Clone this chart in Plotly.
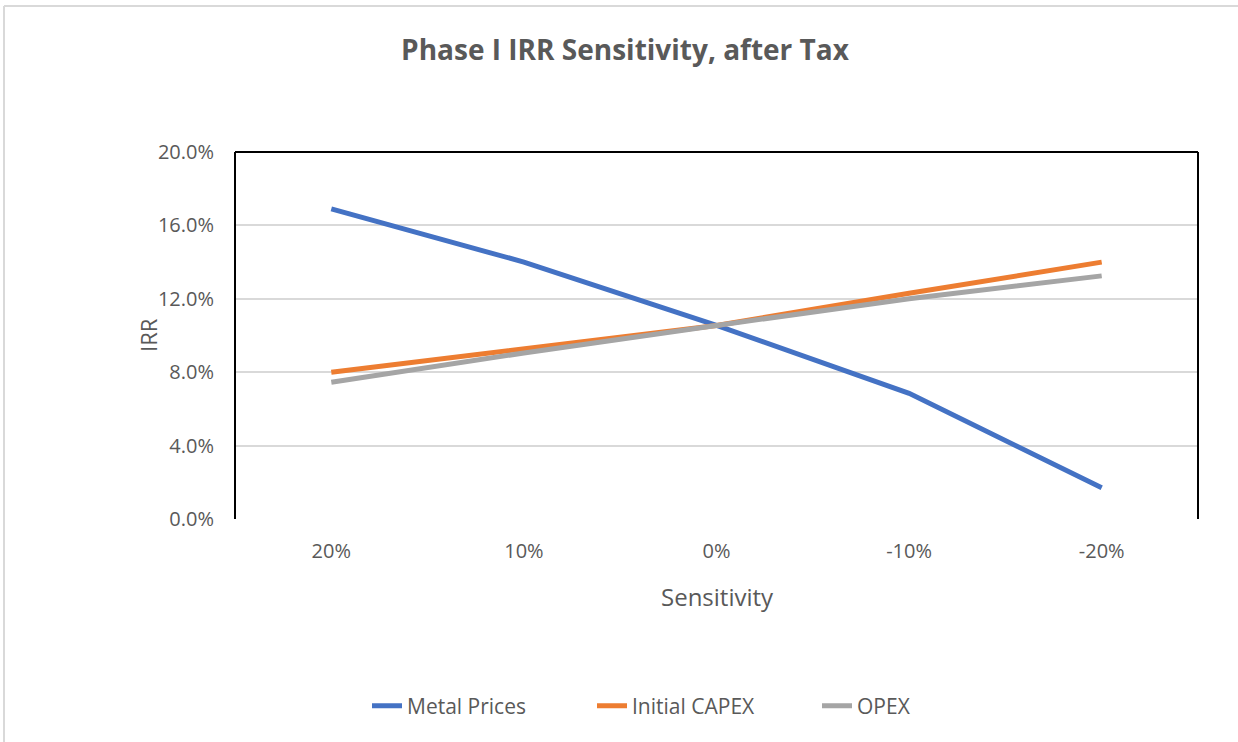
import plotly.graph_objects as go

# Sensitivity cases (change applied to each driver)
sensitivity = ["20%", "10%", "0%", "-10%", "-20%"]

# After-tax IRR for each driver
metal_prices = [0.169, 0.140, 0.1055, 0.0685, 0.017]
initial_capex = [0.080, 0.093, 0.1055, 0.123, 0.140]
opex = [0.0745, 0.0905, 0.1055, 0.120, 0.1325]

series_names = ["Metal Prices", "Initial CAPEX", "OPEX"]
series_values = [metal_prices, initial_capex, opex]
series_colors = ["#4472C4", "#ED7D31", "#A5A5A5"]

y_ticks = [0.0, 0.04, 0.08, 0.12, 0.16, 0.20]

FONT = "'Open Sans', sans-serif"
TEXT = "#595959"

fig = go.Figure()
for name, vals, col in zip(series_names, series_values, series_colors):
    fig.add_trace(go.Scatter(
        x=sensitivity, y=vals, name=name, mode="lines",
        line=dict(color=col, width=5),
    ))

W, H = 1238, 742
L, R, T, B = 235, 40, 152, 223
plot_w = W - L - R
plot_h = H - T - B

fig.update_layout(
    width=W, height=H,
    margin=dict(l=L, r=R, t=T, b=B),
    paper_bgcolor="white", plot_bgcolor="white",
    font=dict(family=FONT, color=TEXT, size=20),
    title=dict(
        text="<b>Phase I IRR Sensitivity, after Tax</b>",
        x=625 / W, xref="container", xanchor="center",
        y=1 - 50 / H, yref="container", yanchor="middle",
        font=dict(size=28, color=TEXT, family=FONT),
    ),
    xaxis=dict(
        type="category", range=[-0.5, 4.5],
        showgrid=False, showline=False, zeroline=False,
        ticks="", tickfont=dict(size=20, color=TEXT),
        ticklabelstandoff=18,
    ),
    yaxis=dict(
        range=[0, 0.20], tickvals=y_ticks, tickformat=".1%",
        showgrid=True, gridcolor="#D9D9D9", gridwidth=2,
        zeroline=False, showline=False, ticks="",
        tickfont=dict(size=20, color=TEXT),
        ticklabelstandoff=20,
    ),
    legend=dict(
        orientation="h", xref="container", x=367 / W, xanchor="left",
        yref="container", y=1 - 706 / H, yanchor="middle",
        font=dict(size=21, color=TEXT),
        entrywidth=180, entrywidthmode="pixels",
        bgcolor="rgba(0,0,0,0)",
    ),
    showlegend=True,
    annotations=[
        dict(text="IRR", textangle=-90, xref="paper", yref="paper",
             x=(148 - L) / plot_w, y=(519 - 335) / plot_h,
             showarrow=False, font=dict(size=22, color=TEXT),
             xanchor="center", yanchor="middle"),
        dict(text="Sensitivity", xref="paper", yref="paper",
             x=(717 - L) / plot_w, y=(519 - 596) / plot_h,
             showarrow=False, font=dict(size=24, color=TEXT),
             xanchor="center", yanchor="middle"),
    ],
)

# Black frame on left, top and right of the plot area
frame = dict(type="line", xref="paper", yref="paper", line=dict(color="black", width=2))
fig.add_shape(x0=0, x1=0, y0=0, y1=1, **frame)
fig.add_shape(x0=0, x1=1, y0=1, y1=1, **frame)
fig.add_shape(x0=1, x1=1, y0=0, y1=1, **frame)

# Light outer chart border (left and top edges)
bx = (4 - L) / plot_w
by = 1 + (T - 6) / plot_h
outer = dict(type="line", xref="paper", yref="paper", line=dict(color="#D9D9D9", width=2))
fig.add_shape(x0=bx, x1=bx, y0=-1, y1=by, **outer)
fig.add_shape(x0=bx, x1=2, y0=by, y1=by, **outer)

fig.write_html("out.html")
